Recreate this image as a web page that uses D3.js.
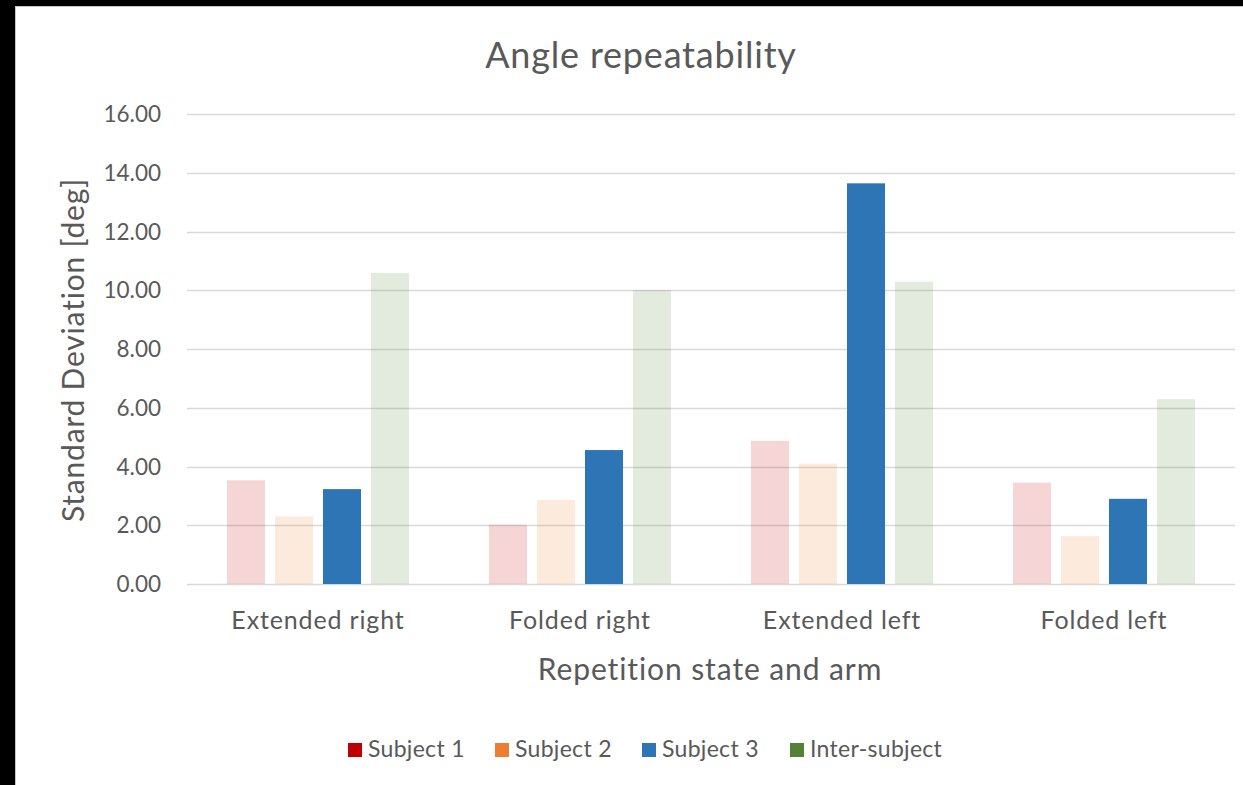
<!DOCTYPE html>
<html>
<head>
<meta charset="utf-8">
<script src="https://cdn.jsdelivr.net/npm/d3@7"></script>
<style>
  html, body { margin: 0; padding: 0; background: #000; }
  svg { display: block; }
  text { font-family: Lato, "Open Sans", "Noto Sans", sans-serif; fill: #595959; }
</style>
</head>
<body>
<script>
// Repetition states (x categories)
const categories = ["Extended right", "Folded right", "Extended left", "Folded left"];
// Series names
const seriesNames = ["Subject 1", "Subject 2", "Subject 3", "Inter-subject"];
// Standard deviation values [deg], one array per series, in category order
const subject1 = [3.53, 2.02, 4.87, 3.45];
const subject2 = [2.30, 2.86, 4.10, 1.63];
const subject3 = [3.23, 4.56, 13.64, 2.90];
const interSubject = [10.59, 10.01, 10.29, 6.29];
// Y tick values
const yTicks = [0, 2, 4, 6, 8, 10, 12, 14, 16];

const seriesValues = [subject1, subject2, subject3, interSubject];
const seriesColors = ["#c00000", "#ed7d31", "#2e75b6", "#548235"];
const seriesOpacity = [0.165, 0.165, 1, 0.165];

const W = 1243, H = 785;
const svg = d3.select("body").append("svg").attr("width", W).attr("height", H);

// black frame around the chart sheet
svg.append("rect").attr("x", 0).attr("y", 0).attr("width", W).attr("height", H).attr("fill", "#000");
svg.append("rect").attr("x", 15.5).attr("y", 6.5).attr("width", W).attr("height", H)
  .attr("fill", "#fff").attr("stroke", "#c8c8c8").attr("stroke-width", 1);

const plot = { left: 187, right: 1235, top: 114, bottom: 584 };

const y = d3.scaleLinear().domain([0, 16]).range([plot.bottom, plot.top]);
const x0 = d3.scaleBand().domain(categories).range([plot.left, plot.right])
  .paddingInner(0.305).paddingOuter(0.1525);
const x1 = d3.scaleBand().domain(seriesNames).range([0, x0.bandwidth()])
  .paddingInner(0.208).paddingOuter(0);

// gridlines
svg.append("g").selectAll("line").data(yTicks).join("line")
  .attr("x1", plot.left).attr("x2", plot.right)
  .attr("y1", d => Math.round(y(d)) + 0.5).attr("y2", d => Math.round(y(d)) + 0.5)
  .attr("stroke", "#d9d9d9").attr("stroke-width", 1.6);

// y tick labels
svg.append("g").selectAll("text").data(yTicks).join("text")
  .attr("x", 161).attr("y", d => y(d)).attr("dy", "0.36em")
  .attr("text-anchor", "end").style("font-size", "22.5px")
  .text(d => d3.format(".2f")(d));

// bars
const rows = categories.map((c, i) => ({ cat: c, vals: seriesNames.map((s, j) => ({ s, j, v: seriesValues[j][i] })) }));
const groups = svg.append("g").selectAll("g").data(rows).join("g")
  .attr("transform", d => `translate(${x0(d.cat)},0)`);
groups.selectAll("rect").data(d => d.vals).join("rect")
  .attr("x", d => x1(d.s)).attr("width", x1.bandwidth())
  .attr("y", d => y(d.v)).attr("height", d => y(0) - y(d.v))
  .attr("fill", d => seriesColors[d.j]).attr("fill-opacity", d => seriesOpacity[d.j]);

// category labels
svg.append("g").selectAll("text").data(categories).join("text")
  .attr("x", d => x0(d) + x0.bandwidth() / 2).attr("y", 629)
  .attr("text-anchor", "middle").style("font-size", "25px").style("letter-spacing", "0.85px")
  .text(d => d);

// title
svg.append("text").attr("x", 641).attr("y", 68).attr("text-anchor", "middle")
  .style("font-size", "36px").style("letter-spacing", "0.8px").text("Angle repeatability");

// axis titles
svg.append("text").attr("x", 710).attr("y", 680).attr("text-anchor", "middle")
  .style("font-size", "30px").style("letter-spacing", "0.9px").text("Repetition state and arm");
svg.append("text").attr("transform", "translate(84,350) rotate(-90)")
  .attr("text-anchor", "middle").style("font-size", "30px").style("letter-spacing", "0.8px")
  .text("Standard Deviation [deg]");

// legend
const legendX = [348, 495, 642, 790];
const legend = svg.append("g").selectAll("g").data(seriesNames).join("g")
  .attr("transform", (d, i) => `translate(${legendX[i]},743)`);
legend.append("rect").attr("width", 14).attr("height", 14)
  .attr("fill", (d, i) => seriesColors[i]);
legend.append("text").attr("x", 20).attr("y", 14).style("font-size", "23px")
  .style("letter-spacing", "0.3px").text(d => d);
</script>
</body>
</html>
